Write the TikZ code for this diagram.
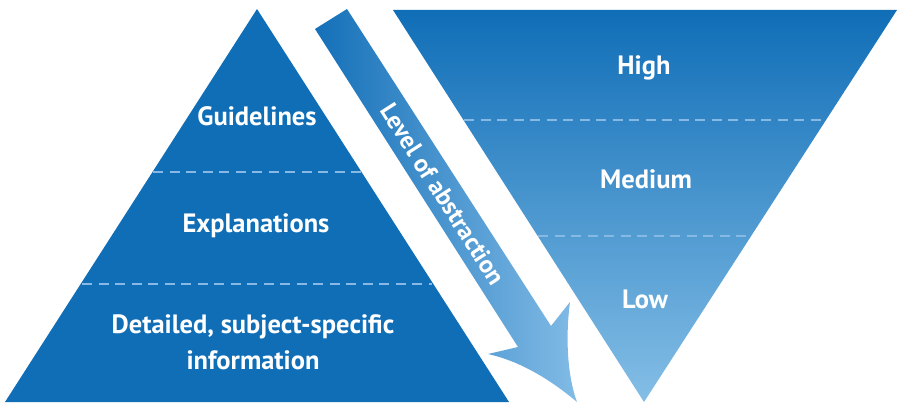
\documentclass[tikz,border=0pt]{standalone}
\usepackage{fontspec}
\setmainfont{PT Sans}
\definecolor{darkblue}{HTML}{106EB7}
\definecolor{lightblue}{HTML}{84BEE6}
\definecolor{dashblue}{HTML}{86B9E4}
\definecolor{arrowdark}{HTML}{1470B8}
\definecolor{arrowlight}{HTML}{82BBE6}
\tikzset{
  lbl/.style={text=white, font=\bfseries\fontsize{26.5}{36}\selectfont, align=center, inner sep=0pt},
  sep/.style={dashblue, line width=1.4pt, dash pattern=on 10pt off 6.5pt}
}
\begin{document}
\begin{tikzpicture}[x=1pt,y=-1pt]
\useasboundingbox (0,0) rectangle (904,403);
% left pyramid
\fill[darkblue] (257,9) -- (509,402) -- (5,402) -- cycle;
\draw[sep] (153,172) -- (361,172);
\draw[sep] (82,284) -- (432,284);
% right inverted pyramid
\shade[top color=darkblue, bottom color=lightblue] (393,10) -- (897,10) -- (644,402) -- cycle;
\draw[sep] (464,120) -- (825,120);
\draw[sep] (538,236) -- (751,236);
% arrow
\shade[left color=arrowdark, right color=arrowlight]
  (315,29) -- (347,9) -- (551,326) -- (570,302)
  .. controls (565,340) and (568,378) .. (577,402)
  .. controls (545,375) and (515,360) .. (488,354)
  -- (518,347) -- cycle;
% labels
\node[lbl] (guide) at (257,116) {Guidelines};
\node[lbl] (expl) at (256,226) {Explanations};
\node[lbl] (detail) at (253,342) {Detailed, subject-specific\\information};
\node[lbl] (high) at (644,68) {High};
\node[lbl] (med) at (646,179) {Medium};
\node[lbl] (low) at (645,299) {Low};
\node[lbl, rotate=-57.4, font=\bfseries\fontsize{25}{30}\selectfont] (level) at (443,194) {Level of abstraction};
\end{tikzpicture}
\end{document}
